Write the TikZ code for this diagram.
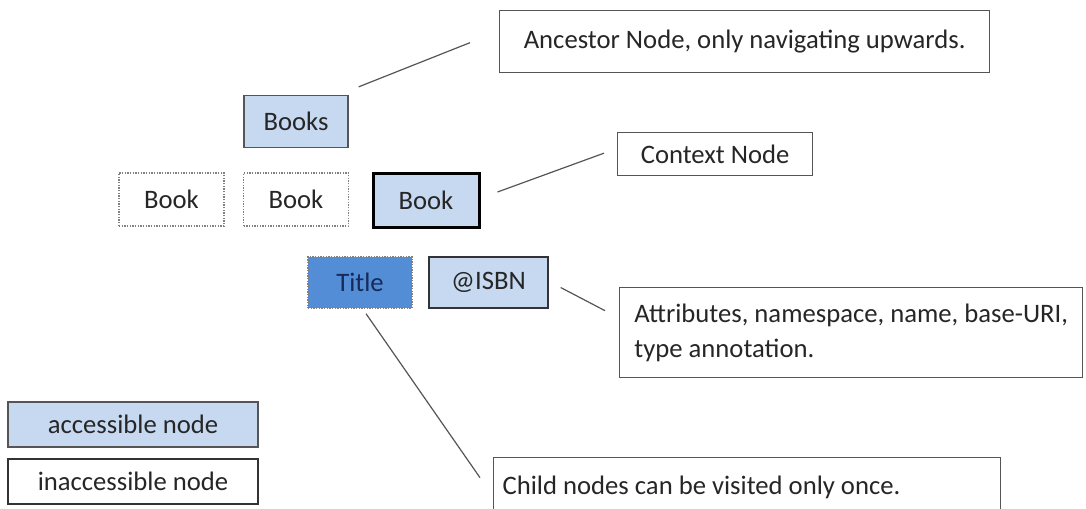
\documentclass[tikz,border=0pt]{standalone}
\usepackage{fontspec}
\setmainfont{Carlito}
\usetikzlibrary{calc}
\definecolor{lightblue}{RGB}{198,217,241}
\definecolor{midblue}{RGB}{83,141,213}
\definecolor{framegray}{RGB}{85,85,85}
\definecolor{titleblue}{RGB}{23,43,90}

\begin{document}
\begin{tikzpicture}[x=0.75pt,y=-0.75pt,
	every node/.style={font=\fontsize{20}{26}\selectfont, inner sep=0pt, text=black!85},
	acc/.style={draw=framegray, fill=lightblue, line width=1pt},
	inacc/.style={draw=gray, densely dotted, line width=1pt},
	note/.style={draw=framegray, fill=white, line width=1pt, anchor=north west, align=left},
	pointer/.style={draw=framegray, line width=0.9pt}]
	\useasboundingbox (0,0) rectangle (1086,508);
	\clip (0,0) rectangle (1086,508);

	% the tree
	\node[acc, minimum width=78pt, minimum height=39pt] (books) at (296,121.5) {Books};
	\node[inacc, minimum width=78.75pt, minimum height=39.75pt] (book1) at (171.5,199.5) {Book};
	\node[inacc, minimum width=78.75pt, minimum height=39.75pt] (book2) at (296,199.5) {Book};
	\node[fill=lightblue, draw=black, line width=2.25pt, minimum width=79.5pt, minimum height=40.5pt] (book3) at (426,200) {Book};
	\node[fill=midblue, draw=gray, densely dotted, line width=1pt, text=titleblue, minimum width=78pt, minimum height=38.25pt] (title) at (360,282.5) {Title};
	\node[acc, draw=black!80, minimum width=89.25pt, minimum height=38.25pt] (isbn) at (488.5,282.5) {@ISBN};

	% legend
	\node[acc, minimum width=187.5pt, minimum height=33.75pt] (legacc) at (133,424.5) {accessible node};
	\node[draw=black!80, line width=1pt, minimum width=187.5pt, minimum height=33.75pt] (leginacc) at (133,481.5) {inaccessible node};

	% notes
	\node[note, minimum width=367.5pt, minimum height=46.5pt] (ancestor) at (499,10) {Ancestor Node, only navigating upwards.};
	\node[note, minimum width=146.25pt, minimum height=32.25pt] (context) at (617,132) {Context Node};
	\node[note, minimum width=347.25pt, minimum height=67.5pt] (attr) at (619,287) {Attributes, namespace, name, base-URI,\\type annotation.};
	\node[note, align=flush left, inner xsep=6.75pt, text width=366.75pt, minimum height=45pt] (child) at (493,457) {Child nodes can be visited only once.};

	\draw[pointer] ($(books.north east)+(10,-8)$) -- ($(ancestor.west)+(-29,1)$);
	\draw[pointer] ($(book3.east)+(17,-8)$) -- ($(context.west)+(-13,-1)$);
	\draw[pointer] ($(isbn.east)+(12,5)$) -- ($(attr.west)+(-14,-22)$);
	\draw[pointer] ($(title.south)+(6,5)$) -- ($(child.west)+(-13,-10)$);
\end{tikzpicture}
\end{document}
